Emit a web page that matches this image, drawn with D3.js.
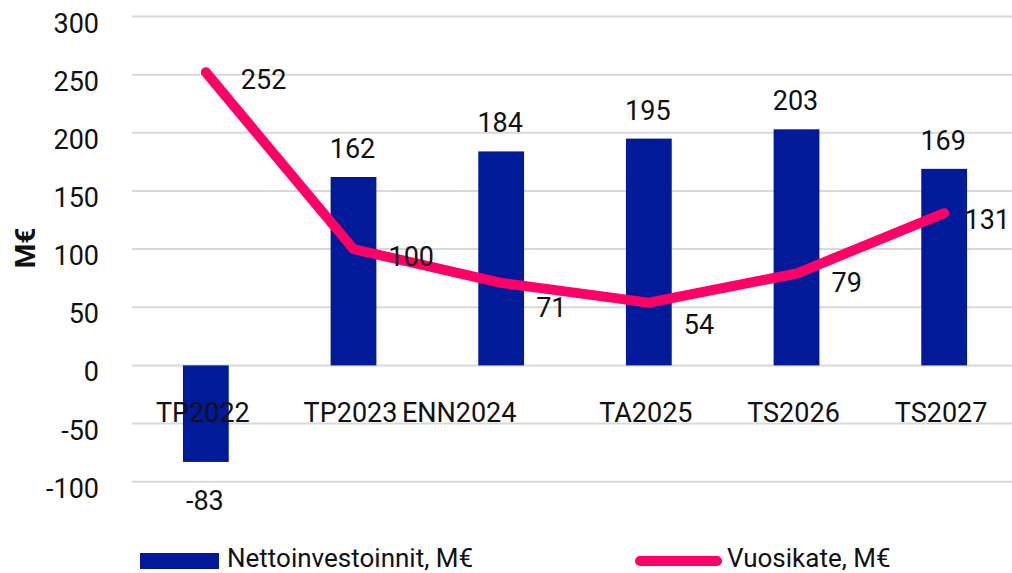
<!DOCTYPE html>
<html>
<head>
<meta charset="utf-8">
<script src="https://cdn.jsdelivr.net/npm/d3@7"></script>
<style>
  body { margin: 0; background: #fff; }
  svg { display: block; font-family: Roboto, "Noto Sans", sans-serif; }
</style>
</head>
<body>
<svg id="chart" width="1012" height="573"></svg>
<script>
const categories = ["TP2022", "TP2023", "ENN2024", "TA2025", "TS2026", "TS2027"];
const nettoinvestoinnit = [-83, 162, 184, 195, 203, 169];
const vuosikate = [252, 100, 71, 54, 79, 131];
const yTicks = [-100, -50, 0, 50, 100, 150, 200, 250, 300];
const seriesNames = ["Nettoinvestoinnit, M€", "Vuosikate, M€"];
const yTitle = "M€";

const BLUE = "#001A9A", PINK = "#FF0066", GRID = "#D9D9D9", TEXT = "#111";
const FS = 27;

const svg = d3.select("#chart");
const x = d3.scaleBand().domain(categories).range([132, 1018]).paddingInner(0.69).paddingOuter(0.345);
const y = d3.scaleLinear().domain([-100, 300]).range([481.7, 16.5]);
const cx = c => x(c) + x.bandwidth() / 2;

// gridlines
svg.append("g").selectAll("line").data(yTicks).join("line")
  .attr("x1", 132).attr("x2", 1012)
  .attr("y1", d => y(d)).attr("y2", d => y(d))
  .attr("stroke", GRID).attr("stroke-width", 2);

// y tick labels
svg.append("g").selectAll("text").data(yTicks).join("text")
  .attr("x", 99).attr("y", d => y(d) + 16)
  .attr("text-anchor", "end").attr("font-size", FS).attr("fill", TEXT)
  .text(d => d);

// y title
svg.append("text")
  .attr("transform", "translate(35,248) rotate(-90)")
  .attr("text-anchor", "middle").attr("font-size", 28).attr("font-weight", "bold").attr("fill", TEXT)
  .text(yTitle);

// bars
const barData = categories.map((c, i) => ({ c, v: nettoinvestoinnit[i] }));
svg.append("g").selectAll("rect").data(barData).join("rect")
  .attr("x", d => x(d.c)).attr("width", x.bandwidth())
  .attr("y", d => y(Math.max(0, d.v))).attr("height", d => Math.abs(y(d.v) - y(0)))
  .attr("fill", BLUE);

// category labels
const catShift = { "ENN2024": -39 };
svg.append("g").selectAll("text").data(categories).join("text")
  .attr("x", d => cx(d) - 3 + (catShift[d] || 0)).attr("y", 421.7)
  .attr("text-anchor", "middle").attr("font-size", FS).attr("fill", TEXT)
  .text(d => d);

// bar value labels
svg.append("g").selectAll("text").data(barData).join("text")
  .attr("x", d => cx(d.c) - 1)
  .attr("y", d => d.v >= 0 ? y(d.v) - 19 : y(d.v) + 48)
  .attr("text-anchor", "middle").attr("font-size", FS).attr("fill", TEXT)
  .text(d => d.v);

// line
const lineData = categories.map((c, i) => ({ c, v: vuosikate[i] }));
const line = d3.line().x(d => cx(d.c)).y(d => y(d.v));
svg.append("path").datum(lineData)
  .attr("d", line).attr("fill", "none").attr("stroke", PINK)
  .attr("stroke-width", 10).attr("stroke-linecap", "round").attr("stroke-linejoin", "round");

// line labels
const lineLabelDy = [17, 17, 34, 31, 18, 16];
svg.append("g").selectAll("text").data(lineData).join("text")
  .attr("x", d => cx(d.c) + 35).attr("y", (d, i) => y(d.v) + lineLabelDy[i])
  .attr("text-anchor", "start").attr("font-size", FS).attr("fill", TEXT)
  .text(d => d.v)
  .each(function() {
    const b = this.getBBox();
    if (b.x + b.width > 1010) {
      d3.select(this).attr("x", 1010 - b.width);
    }
  });

// legend
const lg = svg.append("g");
lg.append("rect").attr("x", 140).attr("y", 553).attr("width", 79).attr("height", 16).attr("fill", BLUE);
lg.append("text").attr("x", 227).attr("y", 567).attr("font-size", 26).attr("fill", TEXT).text(seriesNames[0]);
lg.append("line").attr("x1", 640).attr("x2", 717).attr("y1", 561).attr("y2", 561)
  .attr("stroke", PINK).attr("stroke-width", 10).attr("stroke-linecap", "round");
lg.append("text").attr("x", 727).attr("y", 567).attr("font-size", 26).attr("fill", TEXT).text(seriesNames[1]);
</script>
</body>
</html>
